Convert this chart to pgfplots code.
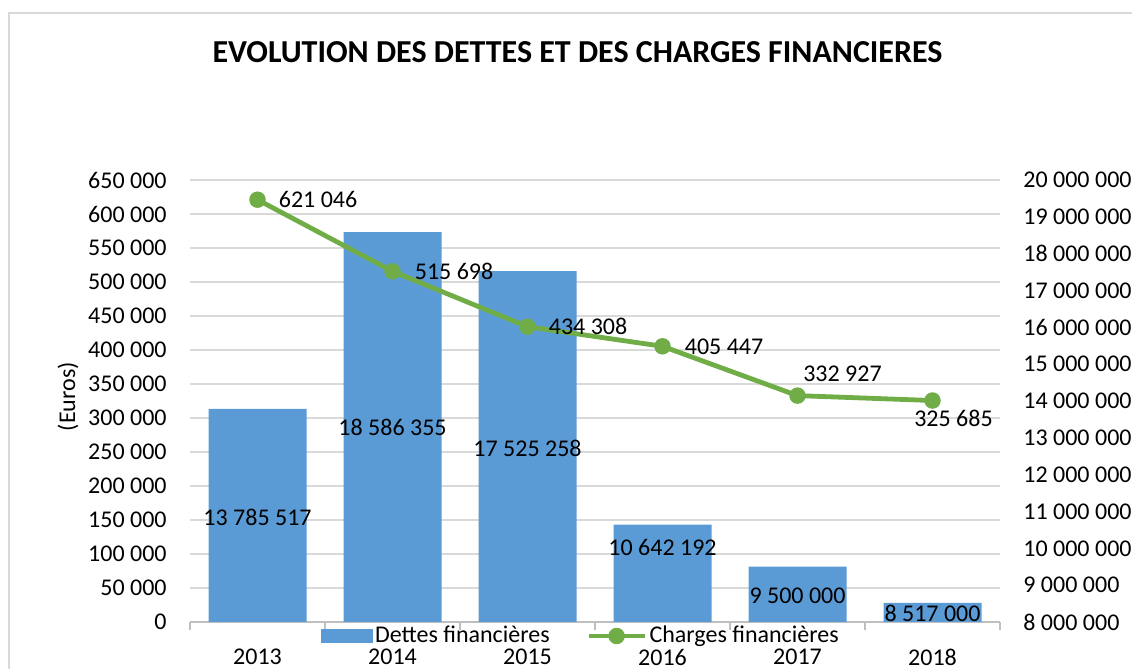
\documentclass[border=0pt]{standalone}
\usepackage{fontspec}
\setmainfont{Carlito}
\usepackage{pgfplots}
\pgfplotsset{compat=1.18}
\definecolor{barblue}{HTML}{5B9BD5}
\definecolor{linegreen}{HTML}{70AD47}
\definecolor{gridgray}{HTML}{D9D9D9}
\definecolor{axisgray}{HTML}{BFBFBF}
\newcommand{\lbl}{\fontsize{12bp}{14bp}\selectfont}
\begin{document}
\begin{tikzpicture}
\path[use as bounding box] (0,0) rectangle (566bp,334.5bp);
\draw[gridgray, line width=0.75bp] (4.5bp,-2bp) -- (4.5bp,328bp) -- (570bp,328bp);
\pgfplotsset{
  every axis/.append style={scale only axis, width=405bp, height=221bp,
    at={(95bp,23.5bp)}, anchor=south west, xmin=-0.5, xmax=5.5,
    scaled y ticks=false, scaled x ticks=false,
    tick label style={font=\lbl}, label style={font=\lbl}},
}
% grid + left axis + x axis
\begin{axis}[
  ymin=0, ymax=650000,
  ytick={0,50000,100000,150000,200000,250000,300000,350000,400000,450000,500000,550000,600000,650000},
  yticklabels={0,50 000,100 000,150 000,200 000,250 000,300 000,350 000,400 000,450 000,500 000,550 000,600 000,650 000},
  ymajorgrids, grid style={gridgray, line width=0.75bp},
  axis y line*=left, y axis line style={draw=none},
  axis x line*=bottom, x axis line style={-, axisgray, line width=0.75bp},
  xtick={0,1,2,3,4,5}, xticklabels={2013,2014,2015,2016,2017,2018},
  major tick length=0pt,
  minor xtick={-0.5,0.5,1.5,2.5,3.5,4.5,5.5}, minor tick length=4bp, tick align=outside,
  minor tick style={axisgray, line width=0.75bp},
  yticklabel style={anchor=east, inner sep=0pt, xshift=-11.5bp},
  xticklabel style={anchor=center, inner sep=0pt, yshift=-17.5bp},
  ylabel={(Euros)},
  ylabel style={at={(axis description cs:-0.1506,0.51)}, anchor=center},
]
\end{axis}
% bars on right axis
\begin{axis}[
  ymin=8000000, ymax=20000000,
  ytick={8000000,9000000,10000000,11000000,12000000,13000000,14000000,15000000,16000000,17000000,18000000,19000000,20000000},
  yticklabels={8 000 000,9 000 000,10 000 000,11 000 000,12 000 000,13 000 000,14 000 000,15 000 000,16 000 000,17 000 000,18 000 000,19 000 000,20 000 000},
  axis y line*=right, y axis line style={draw=none},
  hide x axis,
  major tick length=0pt,
  yticklabel style={anchor=west, inner sep=0pt, xshift=11.5bp},
  ybar, bar width=49bp, bar shift=0pt,
]
\addplot[fill=barblue, draw=none] coordinates {(0,13785517) (1,18586355) (2,17525258) (3,10642192) (4,9500000) (5,8517000)};
\node[font=\lbl, inner sep=0pt] at (axis cs:0,10850000) {13 785 517};
\node[font=\lbl, inner sep=0pt] at (axis cs:1,13270000) {18 586 355};
\node[font=\lbl, inner sep=0pt] at (axis cs:2,12720000) {17 525 258};
\node[font=\lbl, inner sep=0pt] at (axis cs:3,10010000) {10 642 192};
\node[font=\lbl, inner sep=0pt] at (axis cs:4,8710000) {9 500 000};
\node[font=\lbl, inner sep=0pt] at (axis cs:5,8230000) {8 517 000};
\end{axis}
% line on left axis
\begin{axis}[
  ymin=0, ymax=650000, hide axis,
  legend columns=2,
  legend style={draw=none, fill=none, at={(0.4827,0)}, anchor=center, yshift=-7bp,
    font=\lbl, inner sep=0pt, nodes={inner sep=1.25bp},
    /tikz/every even column/.append style={column sep=17bp}},
]
\addlegendimage{legend image code/.code={\fill[barblue] (0bp,-3.25bp) rectangle (25.5bp,3.25bp);}}
\addlegendentry{Dettes financières}
\addplot[linegreen, line width=2.4bp, mark=*, mark size=2.9bp, mark options={fill=linegreen, draw=none},
  legend image code/.code={\draw[linegreen, line width=2.4bp] (0bp,0bp)--(28bp,0bp); \fill[linegreen] (14bp,0bp) circle (2.9bp);}]
  coordinates {(0,621046) (1,515698) (2,434308) (3,405447) (4,332927) (5,325685)};
\addlegendentry{Charges financières}
\node[font=\lbl, inner sep=0pt, anchor=west, xshift=10.5bp] at (axis cs:0,621046) {621 046};
\node[font=\lbl, inner sep=0pt, anchor=west, xshift=11bp] at (axis cs:1,515698) {515 698};
\node[font=\lbl, inner sep=0pt, anchor=west, xshift=10.5bp] at (axis cs:2,434308) {434 308};
\node[font=\lbl, inner sep=0pt, anchor=west, xshift=11bp] at (axis cs:3,405447) {405 447};
\node[font=\lbl, inner sep=0pt, xshift=22.5bp, yshift=11bp] at (axis cs:4,332927) {332 927};
\node[font=\lbl, inner sep=0pt, xshift=10.5bp, yshift=-9bp] at (axis cs:5,325685) {325 685};
\end{axis}
\node[font=\bfseries\fontsize{16bp}{18bp}\selectfont] at (288.75bp,308.5bp) {EVOLUTION DES DETTES ET DES CHARGES FINANCIERES};
\end{tikzpicture}
\end{document}
